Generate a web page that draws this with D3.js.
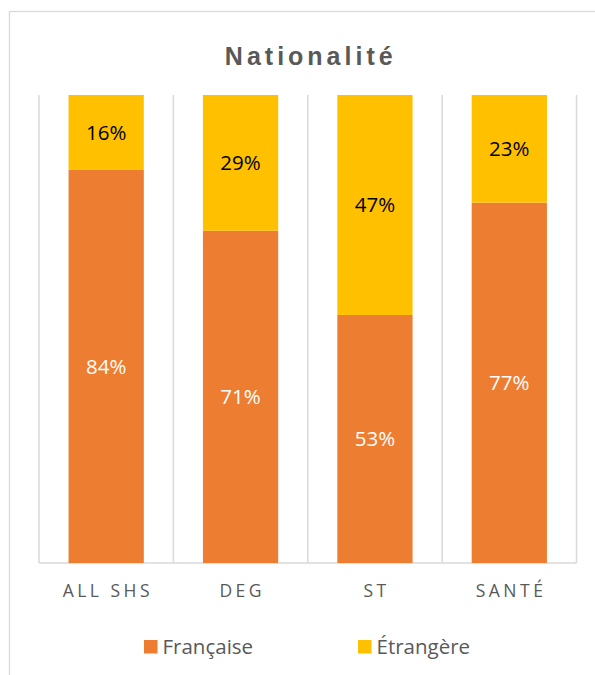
<!DOCTYPE html>
<html>
<head>
<meta charset="utf-8">
<script src="https://cdn.jsdelivr.net/npm/d3@7"></script>
<style>
  html, body { margin: 0; padding: 0; background: #fff; }
  svg { display: block; }
</style>
</head>
<body>
<svg id="chart" width="595" height="675"></svg>
<script>
// ─── Data ─────────────────────────────────────────────────────────────────────

const title      = "Nationalité";
const categories = ["ALL SHS", "DEG", "ST", "SANTÉ"];
const francaise  = [84, 71, 53, 77];
const etrangere  = [16, 29, 47, 23];
const seriesNames = ["Française", "Étrangère"];

// ─── Setup ────────────────────────────────────────────────────────────────────

const W = 595, H = 675;
const COLORS = ["#ED7D31", "#FFC000"];
const GRID   = "#d9d9d9";
const TEXT   = "#595959";

const svg = d3.select("#chart");

// chart frame (cropped on the right and bottom)
svg.append("rect")
  .attr("x", 9.5).attr("y", 11.5)
  .attr("width", W).attr("height", H)
  .attr("fill", "#fff")
  .attr("stroke", GRID).attr("stroke-width", 1.3);

const plot = { left: 39, right: 576.5, top: 95, bottom: 563 };

const x = d3.scaleBand()
  .domain(categories)
  .range([plot.left, plot.right])
  .paddingInner(0).paddingOuter(0);

const y = d3.scaleLinear().domain([0, 100]).range([plot.bottom, plot.top]);

const barW = x.bandwidth() * 0.56;

// ─── Title ────────────────────────────────────────────────────────────────────

svg.append("text")
  .attr("x", (plot.left + plot.right) / 2 + 3)
  .attr("y", 65)
  .attr("text-anchor", "middle")
  .attr("font-family", "Liberation Sans, Arial, sans-serif")
  .attr("font-weight", "bold")
  .attr("font-size", 25)
  .attr("letter-spacing", 4)
  .attr("fill", TEXT)
  .text(title);

// ─── Gridlines (category boundaries) ─────────────────────────────────────────

const bounds = categories.map(c => x(c)).concat([plot.right]);
svg.append("g").selectAll("line")
  .data(bounds)
  .join("line")
  .attr("x1", d => d).attr("x2", d => d)
  .attr("y1", plot.top).attr("y2", plot.bottom)
  .attr("stroke", GRID).attr("stroke-width", 1.5);

svg.append("line")
  .attr("x1", plot.left).attr("x2", plot.right)
  .attr("y1", plot.bottom).attr("y2", plot.bottom)
  .attr("stroke", GRID).attr("stroke-width", 1.5);

// ─── Stacked bars ─────────────────────────────────────────────────────────────

const rows = categories.map((c, i) => ({ cat: c, f: francaise[i], e: etrangere[i] }));
const stack = d3.stack().keys(["f", "e"])(rows);

const layers = svg.append("g").selectAll("g")
  .data(stack)
  .join("g")
  .attr("fill", (d, i) => COLORS[i]);

layers.selectAll("rect")
  .data(d => d)
  .join("rect")
  .attr("x", d => x(d.data.cat) + (x.bandwidth() - barW) / 2)
  .attr("width", barW)
  .attr("y", d => y(d[1]))
  .attr("height", d => y(d[0]) - y(d[1]));

layers.selectAll("text")
  .data(d => d)
  .join("text")
  .attr("x", d => x(d.data.cat) + x.bandwidth() / 2)
  .attr("y", d => (y(d[0]) + y(d[1])) / 2)
  .attr("dy", "0.36em")
  .attr("text-anchor", "middle")
  .attr("font-family", "Open Sans, sans-serif")
  .attr("font-size", 20.5)
  .attr("fill", function () {
    return d3.select(this.parentNode).datum().key === "f" ? "#fff" : "#000";
  })
  .text(d => (d[1] - d[0]) + "%");

// ─── Category axis labels ─────────────────────────────────────────────────────

svg.append("g").selectAll("text")
  .data(categories)
  .join("text")
  .attr("x", d => x(d) + x.bandwidth() / 2 + 1.7)
  .attr("y", 597)
  .attr("text-anchor", "middle")
  .attr("font-family", "Open Sans, sans-serif")
  .attr("font-size", 17.5)
  .attr("letter-spacing", 3.5)
  .attr("fill", TEXT)
  .text(d => d);

// ─── Legend ───────────────────────────────────────────────────────────────────

const legendX = [144, 358];
const legend = svg.append("g").selectAll("g")
  .data(seriesNames)
  .join("g")
  .attr("transform", (d, i) => `translate(${legendX[i]},640)`);

legend.append("rect")
  .attr("width", 13.5).attr("height", 13.5)
  .attr("fill", (d, i) => COLORS[i]);

legend.append("text")
  .attr("x", 18.5)
  .attr("y", 7)
  .attr("dy", "0.36em")
  .attr("font-family", "Open Sans, sans-serif")
  .attr("font-size", 20.5)
  .attr("fill", TEXT)
  .text(d => d);
</script>
</body>
</html>
